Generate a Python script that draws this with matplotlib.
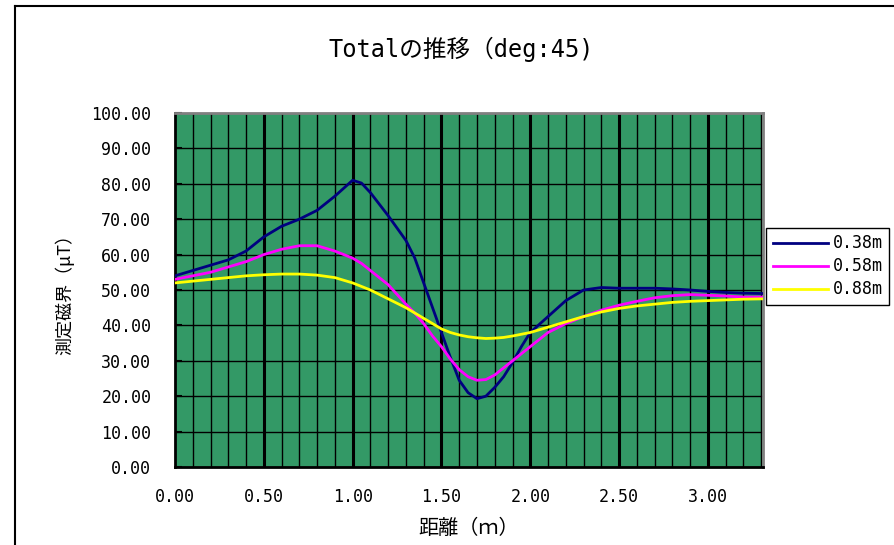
import matplotlib
matplotlib.use('Agg')
import matplotlib.pyplot as plt
from matplotlib.lines import Line2D
from matplotlib.ticker import MultipleLocator, FormatStrFormatter

plt.rcParams['font.family'] = ['Noto Sans CJK JP', 'DejaVu Sans']
MONO = ['DejaVu Sans Mono', 'Noto Sans CJK JP']

distance = [0.0, 0.1, 0.2, 0.3, 0.4, 0.5, 0.6, 0.7, 0.8, 0.9, 1.0, 1.05, 1.1, 1.2,
            1.3, 1.35, 1.4, 1.45, 1.5, 1.55, 1.6, 1.65, 1.7, 1.75, 1.8, 1.85, 1.9,
            1.95, 2.0, 2.1, 2.2, 2.3, 2.4, 2.5, 2.6, 2.7, 2.8, 2.9, 3.0, 3.1, 3.2, 3.31]
field_038 = [54, 55.5, 57, 58.5, 61, 65, 68, 70, 72.5, 76.5, 81, 80.2, 77.5, 71,
             64, 59, 52, 45, 38, 31, 24.5, 21, 19.3, 20, 22.5, 25.5, 29.5,
             34, 38, 42.5, 47, 50, 50.7, 50.5, 50.5, 50.5, 50.3, 50, 49.6, 49.3, 49.1, 49]
field_058 = [53, 54, 55, 56.5, 58, 60, 61.5, 62.5, 62.5, 61, 59, 57.5, 55.5, 51.5,
             46, 43.5, 40.5, 37, 34, 30.5, 27.5, 25.5, 24.5, 24.7, 26, 28, 30,
             32, 34, 38, 40.5, 42.5, 44.3, 45.7, 46.8, 47.8, 48.4, 48.7, 48.5, 48.3, 48, 48]
field_088 = [52, 52.5, 53, 53.5, 54, 54.3, 54.5, 54.5, 54.2, 53.5, 52, 51, 50, 47.5,
             45, 43.5, 42, 40.5, 39, 38, 37.3, 36.8, 36.5, 36.3, 36.4, 36.6, 37,
             37.5, 38, 39.5, 41, 42.5, 43.8, 44.8, 45.5, 46, 46.5, 46.8, 47, 47.2, 47.4, 47.5]
series_labels = ['0.38m', '0.58m', '0.88m']
series_colors = ['#000080', '#FF00FF', '#FFFF00']

fig = plt.figure(figsize=(8.95, 5.45), dpi=100)
ax = fig.add_axes([0.1955, 0.1431, 0.657, 0.6496])
ax.set_facecolor('#339966')

# grid: thin every 0.1 m, heavy every 0.5 m, horizontal every 10
for x in [i / 10 for i in range(1, 34)]:
    heavy = abs(x * 2 - round(x * 2)) < 1e-6
    ax.axvline(x, color='black', lw=2.2 if heavy else 1.0, zorder=1)
for y in range(10, 100, 10):
    ax.axhline(y, color='black', lw=1.0, zorder=1)

for vals, lab, col in zip([field_038, field_058, field_088], series_labels, series_colors):
    ax.plot(distance, vals, color=col, lw=2.0, label=lab, zorder=3)

ax.set_xlim(0, 3.31)
ax.set_ylim(0, 100)
ax.xaxis.set_major_locator(MultipleLocator(0.5))
ax.yaxis.set_major_locator(MultipleLocator(10))
ax.xaxis.set_major_formatter(FormatStrFormatter('%.2f'))
ax.yaxis.set_major_formatter(FormatStrFormatter('%.2f'))
ax.tick_params(axis='y', direction='in', length=5, width=1.5, pad=17)
ax.tick_params(axis='x', direction='out', length=0, pad=15)
for lbl in ax.get_xticklabels() + ax.get_yticklabels():
    lbl.set_family(MONO)
    lbl.set_fontsize(12)

for side in ['top', 'right']:
    ax.spines[side].set_color('#808080')
    ax.spines[side].set_linewidth(2)
for side in ['left', 'bottom']:
    ax.spines[side].set_color('black')
    ax.spines[side].set_linewidth(2)

ax.set_xlabel('距離（ｍ）', fontsize=14.5, labelpad=9)
ax.set_ylabel('測定磁界（μT）', fontsize=13, labelpad=12)
fig.text(0.515, 0.91, 'Totalの推移（deg:45)', ha='center', va='center',
         fontsize=17, family=MONO)

leg = fig.legend(loc='upper left', bbox_to_anchor=(0.856, 0.582),
                 prop={'family': MONO, 'size': 12},
                 frameon=True, fancybox=False, edgecolor='black', framealpha=1,
                 handlelength=3.3, borderaxespad=0, labelspacing=0.3, handletextpad=0.3)
leg.get_frame().set_linewidth(1.0)

# outer chart frame (top and left edges)
fig.add_artist(Line2D([15 / 895, 1.0], [1 - 6 / 545, 1 - 6 / 545],
                      transform=fig.transFigure, color='black', lw=1.5))
fig.add_artist(Line2D([15 / 895, 15 / 895], [0.0, 1 - 6 / 545],
                      transform=fig.transFigure, color='black', lw=1.5))

fig.savefig('out.png', dpi=100)
